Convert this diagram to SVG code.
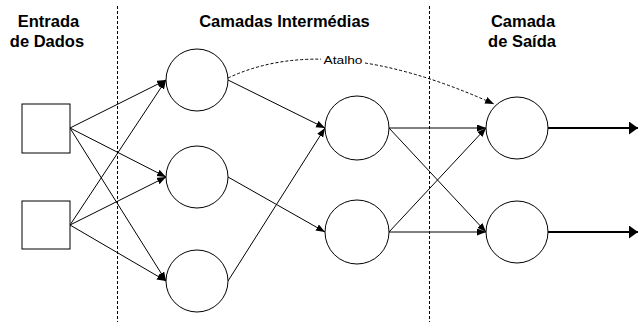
<svg xmlns="http://www.w3.org/2000/svg" width="638" height="322" viewBox="0 0 638 322">
  <style>
    .node { fill: #ffffff; stroke: #000000; stroke-width: 1; }
    .edge { fill: none; stroke: #000000; stroke-width: 1; marker-end: url(#arrow); }
    .out { fill: none; stroke: #000000; stroke-width: 2; marker-end: url(#arrowBig); }
    .divider { fill: none; stroke: #000000; stroke-width: 1; stroke-dasharray: 3 2; }
    .shortcut { fill: none; stroke: #000000; stroke-width: 1; stroke-dasharray: 3 2; }
    .title { font-family: "Liberation Sans", Arial, sans-serif; font-weight: bold; font-size: 16.5px; text-anchor: middle; fill: #000000; }
    .label { font-family: "Liberation Sans", Arial, sans-serif; font-size: 11.5px; text-anchor: middle; fill: #000000; }
  </style>
  <defs>
    <marker id="arrow" markerUnits="userSpaceOnUse" markerWidth="10" markerHeight="8" refX="9" refY="3.5" orient="auto">
      <path d="M0,0 L9,3.5 L0,7 Z" fill="#000000"/>
    </marker>
    <marker id="arrowBig" markerUnits="userSpaceOnUse" markerWidth="10" markerHeight="14" refX="9" refY="6.5" orient="auto">
      <path d="M0,0 L9,6.5 L0,13 Z" fill="#000000"/>
    </marker>
  </defs>

  <rect width="638" height="322" fill="#ffffff"/>

  <!-- column dividers -->
  <g id="dividers">
    <line class="divider" x1="117.5" y1="6" x2="117.5" y2="322"/>
    <line class="divider" x1="429.5" y1="6" x2="429.5" y2="322"/>
  </g>

  <!-- column titles -->
  <g id="titles">
    <text class="title" x="48.5" y="26.5">Entrada</text>
    <text class="title" x="47" y="46.5">de Dados</text>
    <text class="title" x="284.5" y="26.5">Camadas Intermédias</text>
    <text class="title" x="523" y="26.5">Camada</text>
    <text class="title" x="522" y="46.5">de Saída</text>
  </g>

  <!-- connectors -->
  <g id="connectors">
    <!-- input layer to first hidden layer -->
    <line class="edge" x1="70" y1="128" x2="166" y2="80"/>
    <line class="edge" x1="70" y1="128" x2="166" y2="177"/>
    <line class="edge" x1="70" y1="128" x2="166" y2="281"/>
    <line class="edge" x1="70" y1="225" x2="166" y2="80"/>
    <line class="edge" x1="70" y1="225" x2="166" y2="177"/>
    <line class="edge" x1="70" y1="225" x2="166" y2="281"/>
    <!-- first hidden layer to second hidden layer -->
    <line class="edge" x1="228" y1="80" x2="325" y2="128"/>
    <line class="edge" x1="228" y1="177" x2="325" y2="232"/>
    <line class="edge" x1="228" y1="281" x2="325" y2="128"/>
    <!-- second hidden layer to output layer -->
    <line class="edge" x1="389" y1="128" x2="486" y2="128"/>
    <line class="edge" x1="389" y1="128" x2="486" y2="232"/>
    <line class="edge" x1="389" y1="232" x2="486" y2="128"/>
    <line class="edge" x1="389" y1="232" x2="486" y2="232"/>
    <!-- outputs -->
    <line class="out" x1="548" y1="128" x2="638" y2="128"/>
    <line class="out" x1="548" y1="232" x2="638" y2="232"/>
    <!-- shortcut connection -->
    <path class="shortcut" d="M228,78 Q330,30 494,104" marker-end="url(#arrow)"/>
    <rect x="321" y="53" width="44" height="13" fill="#ffffff"/>
    <text class="label" x="343" y="63.5" textLength="39" lengthAdjust="spacingAndGlyphs">Atalho</text>
  </g>

  <!-- input nodes -->
  <g id="in1"><rect class="node" x="22" y="104" width="48" height="49"/></g>
  <g id="in2"><rect class="node" x="22" y="201" width="48" height="48"/></g>

  <!-- first hidden layer -->
  <g id="h1a"><circle class="node" cx="197" cy="80" r="31"/></g>
  <g id="h1b"><circle class="node" cx="197" cy="177" r="31"/></g>
  <g id="h1c"><circle class="node" cx="197" cy="281" r="31"/></g>

  <!-- second hidden layer -->
  <g id="h2a"><circle class="node" cx="357" cy="128" r="32"/></g>
  <g id="h2b"><circle class="node" cx="357" cy="232" r="32"/></g>

  <!-- output layer -->
  <g id="o1"><circle class="node" cx="517" cy="128" r="31"/></g>
  <g id="o2"><circle class="node" cx="517" cy="232" r="31"/></g>
</svg>
